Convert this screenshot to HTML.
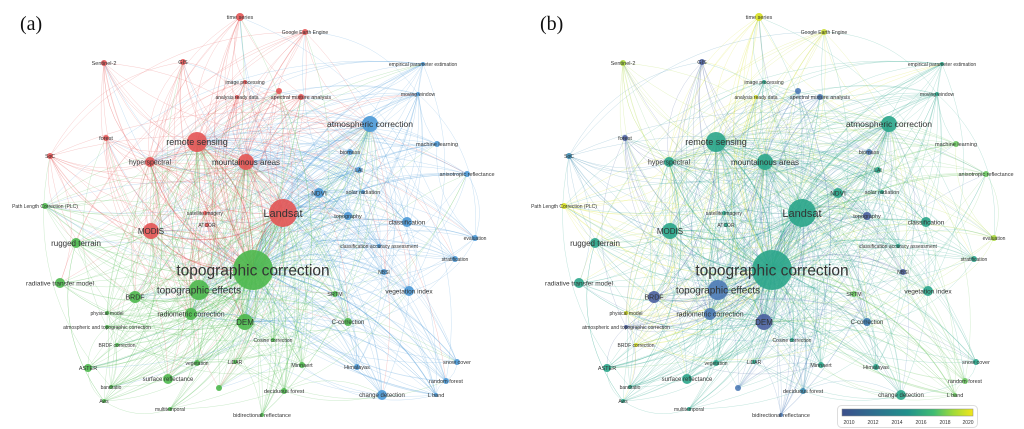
<!DOCTYPE html>
<html><head><meta charset="utf-8">
<style>
html,body{margin:0;padding:0;background:#fff;width:1024px;height:429px;overflow:hidden}
svg text{font-family:"Liberation Sans",sans-serif;fill:#333}
</style></head>
<body>
<svg id="s" width="1024" height="429" viewBox="0 0 1024 429" xmlns="http://www.w3.org/2000/svg">
<defs>
<linearGradient id="vir" x1="0" x2="1" y1="0" y2="0">
<stop offset="0" stop-color="#3b4f8c"/><stop offset="0.25" stop-color="#2e6f8e"/>
<stop offset="0.5" stop-color="#21918c"/><stop offset="0.7" stop-color="#3fbc73"/>
<stop offset="0.85" stop-color="#a0da39"/><stop offset="1" stop-color="#f2e61a"/>
</linearGradient>
</defs>
<g id="ea"></g><g id="eb"></g><g id="na"></g><g id="nb"></g>
<text x="20" y="30" style="font-family:'Liberation Serif',serif;font-size:20px;fill:#111">(a)</text>
<text x="540" y="30" style="font-family:'Liberation Serif',serif;font-size:20px;fill:#111">(b)</text>
<rect x="837.5" y="405.5" width="140" height="22" rx="4" fill="#fff" stroke="#ddd"/>
<rect x="842" y="409" width="131" height="7" fill="url(#vir)" stroke="#888" stroke-width="0.5"/>
<g style="font-size:5px">
<text x="849" y="424" text-anchor="middle" style="font-size:5px">2010</text>
<text x="873" y="424" text-anchor="middle" style="font-size:5px">2012</text>
<text x="897" y="424" text-anchor="middle" style="font-size:5px">2014</text>
<text x="921" y="424" text-anchor="middle" style="font-size:5px">2016</text>
<text x="945" y="424" text-anchor="middle" style="font-size:5px">2018</text>
<text x="968" y="424" text-anchor="middle" style="font-size:5px">2020</text>
</g>
</svg>
<script>
var R="#e35454",G="#4cb84c",B="#4a98d6";
var T="#2aa58a",Y="#d8e020",YG="#a8d83a",LG="#6cc860",DB="#4a5fa0",MB="#4d7ab5";
var N=[
["time series",240,17,4,R,Y,5.5],
["Google Earth Engine",305,32,3,R,"#c8dc30",5],
["Sentinel-2",104,63,3,R,YG,5.5],
["GIS",183,62,3,R,DB,5.5],
["image processing",245,82,2,R,T,5],
["analysis ready data",237,97,2,R,Y,5],
["spectral mixture analysis",301,97,3,R,MB,5.5],
["",279,91,3,R,MB,0],
["forest",106,138,3,R,DB,5.5],
["SoC",50,156,3,R,"#3a8ab0",5],
["remote sensing",197,142,10,R,T,9],
["hyperspectral",150,162,5,R,T,7],
["mountainous areas",246,162,8,R,T,8],
["atmospheric correction",370,124,8,B,T,8.5],
["empirical parameter estimation",423,64,2,B,T,5],
["moving window",418,94,2,B,T,5],
["machine learning",437,144,3,B,LG,5.5],
["biomass",350,152,3,B,MB,5.5],
["LAI",359,170,3,B,T,5],
["anisotropic reflectance",467,174,3,B,LG,5.5],
["NDVI",319,193,5,B,T,6.5],
["solar radiation",363,192,2,B,T,5.5],
["Path Length Correction (PLC)",45,206,3,G,Y,5],
["satellite imagery",205,213,2,R,T,5],
["Landsat",283,213,14,R,T,11],
["topography",348,216,4,B,DB,5.5],
["classification",407,222,5,B,T,6.5],
["ATCOR",207,225,2,R,T,5],
["MODIS",151,231,8,R,T,8],
["rugged terrain",76,243,5,G,T,8],
["classification accuracy assessment",379,246,2,B,T,5],
["evaluation",475,238,3,B,YG,5],
["stratification",455,259,3,B,T,5],
["topographic correction",253,270,20,G,T,15.5],
["NBSI",384,272,3,B,DB,5],
["radiative transfer model",60,283,5,G,T,6.5],
["topographic effects",199,290,10,G,MB,10],
["BRDF",135,297,6,G,DB,7],
["SRTM",335,294,3,G,LG,5.5],
["vegetation index",409,291,5,B,T,6.5],
["physical model",107,313,2,G,Y,5],
["radiometric correction",191,314,6,G,MB,7],
["DEM",245,322,8,G,DB,8],
["atmospheric and topographic correction",107,327,2,G,DB,5],
["C-correction",348,322,4,G,"#3a7ab0",6],
["BRDF correction",117,345,2,G,Y,5],
["Cosine correction",273,340,2,G,T,5],
["vegetation",197,363,3,G,T,5],
["LiDAR",235,362,2,G,T,5],
["Minnaert",302,365,3,G,T,5.5],
["ASTER",88,368,4,G,T,5.5],
["Himalayas",357,367,3,B,T,5.5],
["snow cover",457,362,3,B,T,5.5],
["surface reflectance",168,379,5,G,T,6],
["bandratio",111,387,2,G,T,5],
["random forest",446,381,3,B,LG,5.5],
["",219,388,3,G,MB,0],
["deciduous forest",284,391,3,G,"#3a8ab0",5.5],
["Aws",104,401,2,G,T,5],
["change detection",382,395,5,B,T,6],
["L band",436,395,2,B,LG,5.5],
["multitemporal",170,409,2,G,T,5],
["bidirectional reflectance",262,415,2,G,MB,5.5]
];
var NS="http://www.w3.org/2000/svg";
function el(t,a,p){var e=document.createElementNS(NS,t);for(var k in a)e.setAttribute(k,a[k]);p.appendChild(e);return e;}
var seed=7;function rnd(){seed=(seed*9301+49297)%233280;return seed/233280;}
var hubs=[33,24,10,12,13,36,42,28,11,41];
var E=[];
for(var i=0;i<N.length;i++){
 for(var h=0;h<hubs.length;h++){var j=hubs[h];if(j!==i&&(h<4||rnd()<0.5))E.push([i,j]);}
 for(var k=0;k<4;k++){var j=Math.floor(rnd()*N.length);if(j!==i)E.push([i,j]);}
}
var ea=document.getElementById("ea"),eb=document.getElementById("eb");
var na=document.getElementById("na"),nb=document.getElementById("nb");
var OX=519;
E.forEach(function(e){
 var a=N[e[0]],b=N[e[1]];
 var mx=(a[1]+b[1])/2,my=(a[2]+b[2])/2,dx=b[1]-a[1],dy=b[2]-a[2];
 var c=0.25;var cx=mx-dy*c,cy=my+dx*c;
 var w=(a[3]+b[3])>20?0.9:0.5;
 var col=(a[3]>=b[3]?b[4]:a[4]);
 el("path",{d:"M"+a[1]+" "+a[2]+" Q"+cx+" "+cy+" "+b[1]+" "+b[2],fill:"none",stroke:col,"stroke-opacity":0.3,"stroke-width":w},ea);
 var colb=(a[3]>=b[3]?b[5]:a[5]);
 el("path",{d:"M"+(a[1]+OX)+" "+a[2]+" Q"+(cx+OX)+" "+cy+" "+(b[1]+OX)+" "+b[2],fill:"none",stroke:colb,"stroke-opacity":0.3,"stroke-width":w},eb);
});
N.forEach(function(n){
 el("circle",{cx:n[1],cy:n[2],r:n[3],fill:n[4],"fill-opacity":0.9},na);
 el("circle",{cx:n[1]+OX,cy:n[2],r:n[3],fill:n[5],"fill-opacity":0.9},nb);
 if(n[0]){
  var t=el("text",{x:n[1],y:n[2]+n[6]*0.35,"text-anchor":"middle",style:"font-size:"+n[6]+"px"},na);t.textContent=n[0];
  var t2=el("text",{x:n[1]+OX,y:n[2]+n[6]*0.35,"text-anchor":"middle",style:"font-size:"+n[6]+"px"},nb);t2.textContent=n[0];
 }
});
</script>
</body></html>
